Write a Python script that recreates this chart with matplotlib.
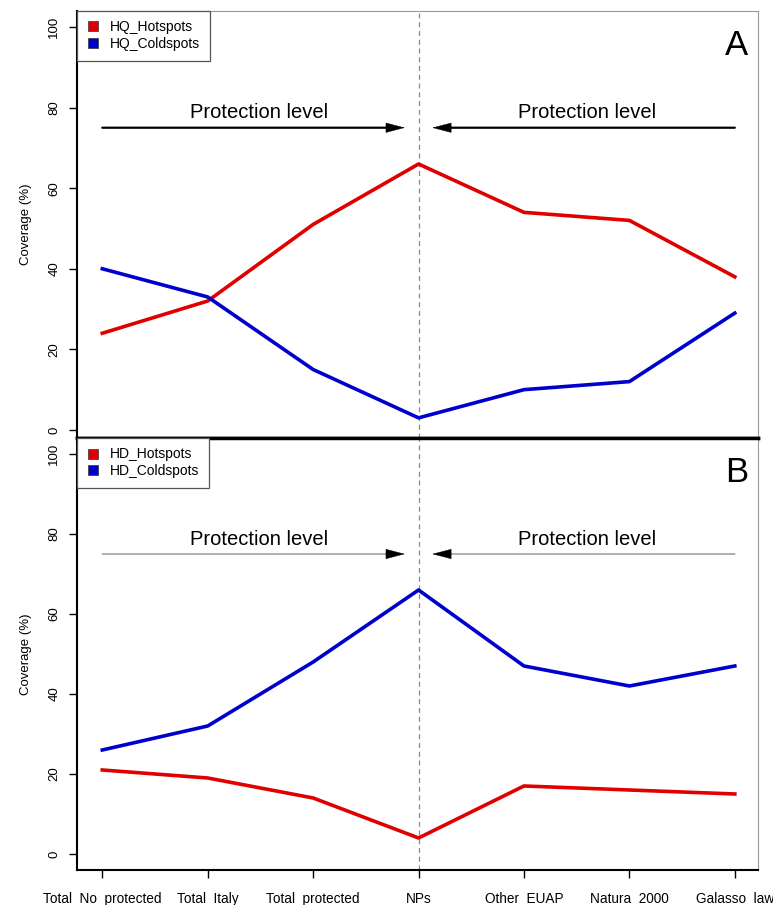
import matplotlib
matplotlib.use("Agg")
import matplotlib.pyplot as plt
from matplotlib.lines import Line2D

plt.rcParams['font.family'] = ['Liberation Sans', 'DejaVu Sans']

categories = ["Total  No  protected", "Total  Italy", "Total  protected", "NPs",
              "Other  EUAP", "Natura  2000", "Galasso  law"]
hq_hot = [24, 32, 51, 66, 54, 52, 38]
hq_cold = [40, 33, 15, 3, 10, 12, 29]
hd_hot = [21, 19, 14, 4, 17, 16, 15]
hd_cold = [26, 32, 48, 66, 47, 42, 47]
yticks = [0, 20, 40, 60, 80, 100]

RED = "#e00000"
BLUE = "#0000cc"
x = list(range(1, len(categories) + 1))

fig = plt.figure(figsize=(7.73, 9.05), dpi=100)
axA = fig.add_axes([0.0996, 0.516, 0.881, 0.472])
axB = fig.add_axes([0.0996, 0.0387, 0.881, 0.4773])

HEAD = "-|>,head_length=0.65,head_width=0.17"


def style(ax, ylo, panel, names, hot, cold, arrow_col, arrow_lw):
    ax.set_xlim(0.76, 7.22)
    ax.set_ylim(ylo, 104)
    ax.axvline(4, color="#888888", ls=(0, (4, 3)), lw=0.9, zorder=1)
    ax.plot(x, hot, color=RED, lw=2.6, zorder=3)
    ax.plot(x, cold, color=BLUE, lw=2.6, zorder=3)
    # protection level arrows: shaft in arrow_col, black head on top
    ax.annotate("", xy=(3.8, 75), xytext=(1, 75),
                arrowprops=dict(arrowstyle="-", color=arrow_col, lw=arrow_lw,
                                shrinkA=0, shrinkB=0))
    ax.annotate("", xy=(4.2, 75), xytext=(7, 75),
                arrowprops=dict(arrowstyle="-", color=arrow_col, lw=arrow_lw,
                                shrinkA=0, shrinkB=0))
    for tip, base in [((3.87, 75), (3.7, 75)), ((4.13, 75), (4.3, 75))]:
        ax.annotate("", xy=tip, xytext=base,
                    arrowprops=dict(arrowstyle=HEAD, color="black", lw=0.3,
                                    mutation_scale=20, shrinkA=0, shrinkB=0))
    ax.text(2.49, 76.3, "Protection level", ha="center", va="bottom", fontsize=14.5)
    ax.text(5.6, 76.3, "Protection level", ha="center", va="bottom", fontsize=14.5)
    ax.text(7.13, 95.5, panel, ha="right", va="center", fontsize=25)

    ax.set_yticks(yticks)
    ax.set_yticklabels([str(t) for t in yticks], rotation=90, va="center", fontsize=9.5)
    ax.tick_params(axis="y", direction="out", length=6, width=1, pad=6)
    ax.set_ylabel("Coverage (%)", fontsize=9.5, labelpad=12)

    for s in ["top", "right"]:
        ax.spines[s].set_color("#999999")
        ax.spines[s].set_linewidth(0.8)
    ax.spines["left"].set_linewidth(1.5)

    handles = [Line2D([], [], ls="none", marker="s", markersize=7.5,
                      markerfacecolor=RED, markeredgecolor="#333333", markeredgewidth=0.5),
               Line2D([], [], ls="none", marker="s", markersize=7.5,
                      markerfacecolor=BLUE, markeredgecolor="#333333", markeredgewidth=0.5)]
    leg = ax.legend(handles, names, loc="upper left", borderaxespad=0, fontsize=10,
                    handletextpad=0.8, labelspacing=0.2, borderpad=0.68,
                    fancybox=False, framealpha=1, handlelength=0.9)
    leg.get_frame().set_edgecolor("#555555")
    leg.get_frame().set_linewidth(0.9)


style(axA, -2, "A", ["HQ_Hotspots", "HQ_Coldspots"], hq_hot, hq_cold, "black", 1.6)
style(axB, -4, "B", ["HD_Hotspots", "HD_Coldspots"], hd_hot, hd_cold, "#999999", 1.1)

axA.set_xticks([])
axA.spines["bottom"].set_linewidth(2.5)
axB.spines["top"].set_color("black")
axB.spines["top"].set_linewidth(2.5)
axB.spines["bottom"].set_linewidth(1.5)
axB.set_xticks(x)
axB.set_xticklabels(categories, fontsize=9.8)
axB.tick_params(axis="x", direction="out", length=6, width=1, pad=10)

fig.savefig("out.png", dpi=100, facecolor="white")
